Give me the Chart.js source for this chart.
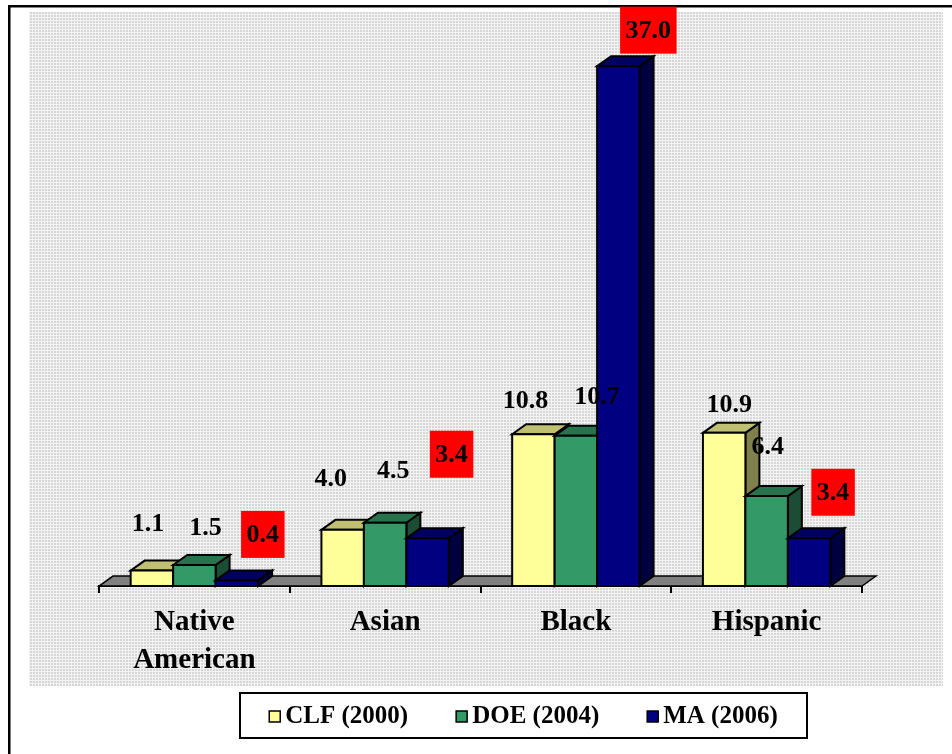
<!DOCTYPE html>
<html>
<head>
<meta charset="utf-8">
<script src="https://cdn.jsdelivr.net/npm/chart.js@4.4.1/dist/chart.umd.min.js"></script>
<style>
  html, body { margin: 0; padding: 0; background: #fff; }
  canvas { display: block; }
</style>
</head>
<body>
<canvas id="chart" width="952" height="754"></canvas>
<script>
// Workforce share by group (percent)
const categories = [['Native', 'American'], 'Asian', 'Black', 'Hispanic'];
const seriesNames = ['CLF (2000)', 'DOE (2004)', 'MA (2006)'];
const clf2000 = [1.1, 4.0, 10.8, 10.9];
const doe2004 = [1.5, 4.5, 10.7, 6.4];
const ma2006  = [0.4, 3.4, 37.0, 3.4];

// Face colours of each series: front, top, side
const faceColors = [
  { front: '#FFFF99', top: '#C0C073', side: '#80804D' },
  { front: '#339966', top: '#26734D', side: '#1A4D33' },
  { front: '#000080', top: '#000060', side: '#000040' }
];

// Value label placement relative to the top-centre of each bar's front face (px)
const labelShiftX = [[-4, -12, -8, 5], [11, 8, 21, 1], [26, 24, 30, 24]];
const labelLift   = [[47, 52, 34, 29], [38, 53, 39, 50], [46, 84, 36, 46]];

const DEPTH = { dx: 14, dy: -10 };
const SERIF = '"Liberation Serif", "Times New Roman", serif';

function makeDotPattern(ctx) {
  const tile = document.createElement('canvas');
  tile.width = 3; tile.height = 3;
  const t = tile.getContext('2d');
  t.fillStyle = '#f3f3f3';
  t.fillRect(0, 0, 3, 3);
  t.fillStyle = '#d6d6d6';
  t.fillRect(0, 0, 2, 2);
  return ctx.createPattern(tile, 'repeat');
}

const backdrop = {
  id: 'backdrop',
  beforeDraw(chart) {
    const ctx = chart.ctx;
    ctx.save();
    ctx.fillStyle = '#fff';
    ctx.fillRect(0, 0, chart.width, chart.height);
    ctx.fillStyle = makeDotPattern(ctx);
    ctx.fillRect(29, 12, 914, 674);
    ctx.fillStyle = '#000';
    ctx.fillRect(8, 5, chart.width - 8, 2.5);
    ctx.fillRect(8, 5, 2.5, chart.height - 5);
    ctx.restore();
  }
};

function poly(ctx, pts, fill) {
  ctx.beginPath();
  ctx.moveTo(pts[0][0], pts[0][1]);
  for (let i = 1; i < pts.length; i++) ctx.lineTo(pts[i][0], pts[i][1]);
  ctx.closePath();
  ctx.fillStyle = fill;
  ctx.fill();
  ctx.stroke();
}

const bars3d = {
  id: 'bars3d',
  beforeDatasetsDraw(chart) {
    // grey floor under the bars
    const ctx = chart.ctx;
    const { left, right } = chart.chartArea;
    const b = chart.scales.y.getPixelForValue(0);
    ctx.save();
    ctx.strokeStyle = '#000';
    ctx.lineWidth = 1.5;
    ctx.lineJoin = 'miter';
    poly(ctx, [[left, b], [left + DEPTH.dx, b + DEPTH.dy], [right + DEPTH.dx, b + DEPTH.dy], [right, b]], '#808080');
    ctx.restore();
  },
  afterDatasetsDraw(chart) {
    const ctx = chart.ctx;
    const items = [];
    chart.data.datasets.forEach((ds, di) => {
      chart.getDatasetMeta(di).data.forEach((el, i) => {
        const p = el.getProps(['x', 'y', 'base', 'width'], true);
        items.push({ di, i, ...p });
      });
    });
    items.sort((a, b) => a.x - b.x);
    ctx.save();
    ctx.strokeStyle = '#000';
    ctx.lineWidth = 2;
    ctx.lineJoin = 'miter';
    items.forEach(it => {
      const c = faceColors[it.di];
      const l = it.x - it.width / 2, r = it.x + it.width / 2;
      const t = Math.min(it.y, it.base), bt = Math.max(it.y, it.base);
      const { dx, dy } = DEPTH;
      poly(ctx, [[r, t], [r + dx, t + dy], [r + dx, bt + dy], [r, bt]], c.side);
      poly(ctx, [[l, t], [l + dx, t + dy], [r + dx, t + dy], [r, t]], c.top);
      poly(ctx, [[l, t], [r, t], [r, bt], [l, bt]], c.front);
    });
    ctx.restore();

    // value labels
    ctx.save();
    ctx.font = 'bold 26px ' + SERIF;
    ctx.textAlign = 'center';
    ctx.textBaseline = 'middle';
    items.forEach(it => {
      const v = chart.data.datasets[it.di].data[it.i];
      const txt = v.toFixed(1);
      const cx = it.x + labelShiftX[it.di][it.i];
      const cy = it.y - labelLift[it.di][it.i];
      if (it.di === 2) {
        const w = ctx.measureText(txt).width + 11;
        ctx.fillStyle = '#FF0000';
        ctx.fillRect(cx - w / 2, cy - 23.5, w, 47);
      }
      ctx.fillStyle = '#000';
      ctx.fillText(txt, cx, cy + 1);
    });
    ctx.restore();
  }
};

const boxedLegend = {
  id: 'boxedLegend',
  afterDraw(chart) {
    const ctx = chart.ctx;
    const box = { x: 240, y: 693, w: 567, h: 45 };
    ctx.save();
    ctx.fillStyle = '#fff';
    ctx.fillRect(box.x, box.y, box.w, box.h);
    ctx.strokeStyle = '#000';
    ctx.lineWidth = 2;
    ctx.strokeRect(box.x, box.y, box.w, box.h);
    ctx.font = 'bold 25px ' + SERIF;
    ctx.textBaseline = 'middle';
    ctx.textAlign = 'left';
    const sq = 11, gap = 5, spacing = 48;
    const widths = chart.data.datasets.map(ds => ctx.measureText(ds.label).width);
    const total = widths.reduce((s, w) => s + w + sq + gap, 0) + spacing * (widths.length - 1);
    let x = box.x + (box.w - total) / 2;
    const cy = box.y + box.h / 2 + 1;
    chart.data.datasets.forEach((ds, di) => {
      ctx.fillStyle = faceColors[di].front;
      ctx.fillRect(x, cy - sq / 2, sq, sq);
      ctx.lineWidth = 1.5;
      ctx.strokeRect(x, cy - sq / 2, sq, sq);
      ctx.fillStyle = '#000';
      ctx.fillText(ds.label, x + sq + gap, cy);
      x += sq + gap + widths[di] + spacing;
    });
    ctx.restore();
  }
};

const seriesData = [clf2000, doe2004, ma2006];

new Chart(document.getElementById('chart'), {
  type: 'bar',
  data: {
    labels: categories,
    datasets: seriesNames.map((name, di) => ({
      label: name,
      data: seriesData[di],
      backgroundColor: faceColors[di].front,
      borderWidth: 0,
      categoryPercentage: 0.668,
      barPercentage: 1
    }))
  },
  options: {
    responsive: false,
    animation: false,
    events: [],
    layout: { padding: { top: 24, left: 99, right: 90, bottom: 63 } },
    plugins: { legend: { display: false }, tooltip: { enabled: false } },
    scales: {
      x: {
        offset: true,
        grid: { display: true, offset: true, drawOnChartArea: false, drawTicks: true, tickLength: 7, color: '#000', lineWidth: 2 },
        border: { display: true, color: '#000', width: 2 },
        ticks: {
          color: '#000',
          autoSkip: false,
          maxRotation: 0,
          padding: 11,
          font: { family: SERIF, size: 29, weight: 'bold', lineHeight: 1.31 }
        }
      },
      y: { display: false, min: 0, max: 40 }
    }
  },
  plugins: [backdrop, bars3d, boxedLegend]
});
</script>
</body>
</html>
